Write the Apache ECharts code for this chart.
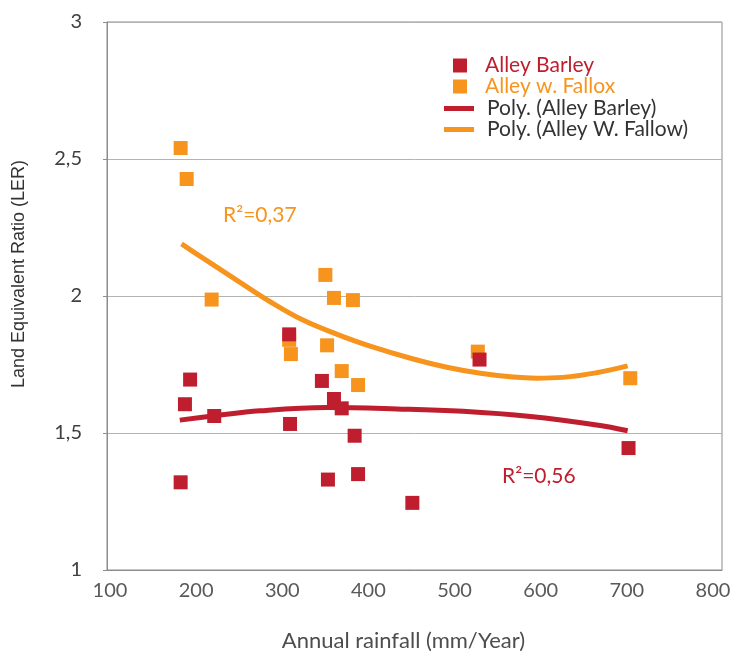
<!DOCTYPE html>
<html>
<head>
<meta charset="utf-8">
<script src="https://cdn.jsdelivr.net/npm/echarts@6/dist/echarts.min.js"></script>
<style>
  html, body { margin: 0; padding: 0; background: #fff; }
  #chart { width: 733px; height: 651px; }
</style>
</head>
<body>
<div id="chart"></div>
<script>
// Annual rainfall (mm/year) vs Land Equivalent Ratio for two alley-cropping systems
const barleyRain = [182, 187, 193, 221, 308, 309, 346, 353, 360, 369, 384, 388, 451, 529, 702];
const barleyLER  = [1.32, 1.605, 1.695, 1.562, 1.86, 1.533, 1.69, 1.33, 1.624, 1.59, 1.49, 1.35, 1.245, 1.768, 1.445];

const fallowRain = [182, 189, 218, 350, 360, 382, 308, 310, 352, 369, 388, 527, 704];
const fallowLER  = [2.54, 2.427, 1.987, 2.077, 1.993, 1.985, 1.84, 1.788, 1.82, 1.726, 1.675, 1.797, 1.7];

// Polynomial trend lines (points along each fitted curve)
const barleyTrendX = [181, 220, 274, 352, 433, 510, 588, 665, 701];
const barleyTrendY = [1.547, 1.562, 1.581, 1.593, 1.588, 1.579, 1.560, 1.529, 1.508];
const fallowTrendX = [183, 208, 247, 286, 324, 363, 402, 452, 491, 530, 568, 595, 626, 665, 701];
const fallowTrendY = [2.190, 2.138, 2.058, 1.979, 1.912, 1.861, 1.817, 1.770, 1.740, 1.718, 1.704, 1.700, 1.703, 1.720, 1.745];

const xTicks = [100, 200, 300, 400, 500, 600, 700, 800];
const r2Barley = 'R²=0,56';
const r2Fallow = 'R²=0,37';

const RED = '#be1e2d';
const ORANGE = '#f7941d';
const FONT = 'Lato';

const zip = (xs, ys) => xs.map((x, i) => [x, ys[i]]);

const chart = echarts.init(document.getElementById('chart'), null, { renderer: 'canvas' });

chart.setOption({
  animation: false,
  textStyle: { fontFamily: FONT },
  grid: {
    left: 107, right: 11, top: 22, bottom: 81,
    outerBoundsMode: 'none',
    containLabel: false,
    show: true, borderColor: '#8c8c8c', borderWidth: 1
  },
  xAxis: {
    type: 'value',
    min: 96.5, max: 810.5,
    name: 'Annual rainfall (mm/Year)',
    nameLocation: 'middle',
    nameGap: 60,
    nameTextStyle: { fontFamily: FONT, fontSize: 22, color: '#4d4d4d', padding: [0, 22, 0, 0] },
    axisLine: { show: true, lineStyle: { color: '#8c8c8c' } },
    axisTick: { show: false },
    splitLine: { show: false },
    axisLabel: {
      customValues: xTicks,
      margin: 11,
      fontFamily: FONT, fontSize: 20, color: '#595959'
    }
  },
  yAxis: {
    type: 'value',
    min: 1, max: 3, interval: 0.5,
    name: 'Land Equivalent Ratio (LER)',
    nameLocation: 'middle',
    nameGap: 79,
    nameTextStyle: { fontFamily: 'Liberation Sans', fontSize: 18, color: '#333333', padding: [0, 0, 0, 44] },
    axisLine: { show: true, lineStyle: { color: '#8c8c8c' } },
    axisTick: { show: true, length: 4, lineStyle: { color: '#8c8c8c' } },
    splitLine: { show: true, lineStyle: { color: '#b3b3b3', width: 1 } },
    axisLabel: {
      margin: 25,
      fontFamily: FONT, fontSize: 20, color: '#404040',
      formatter: v => String(v).replace('.', ',')
    }
  },
  legend: [
    {
      orient: 'vertical',
      left: 453, top: 55,
      padding: 0,
      itemWidth: 14, itemHeight: 14, itemGap: 0,
      selectedMode: false,
      textStyle: { fontFamily: FONT, fontSize: 21, padding: [0, 0, 0, 13] },
      data: [
        { name: 'Alley Barley', icon: 'rect', textStyle: { color: RED } },
        { name: 'Alley w. Fallox', icon: 'rect', textStyle: { color: ORANGE } }
      ]
    },
    {
      orient: 'vertical',
      left: 444, top: 98,
      padding: 0,
      itemWidth: 30, itemHeight: 5, itemGap: 0,
      selectedMode: false,
      textStyle: { fontFamily: FONT, fontSize: 21, color: '#333333', padding: [0, 0, 0, 8] },
      data: [
        { name: 'Poly. (Alley Barley)', icon: 'path://M0,0H30V5H0Z' },
        { name: 'Poly. (Alley W. Fallow)', icon: 'path://M0,0H30V5H0Z' }
      ]
    }
  ],
  graphic: [
    {
      type: 'text', left: 223, top: 205,
      style: { text: r2Fallow, fill: ORANGE, font: '21px Lato' }
    },
    {
      type: 'text', left: 502, top: 466,
      style: { text: r2Barley, fill: RED, font: '21px Lato' }
    }
  ],
  series: [
    {
      name: 'Poly. (Alley W. Fallow)',
      type: 'line',
      data: zip(fallowTrendX, fallowTrendY),
      smooth: 0.4,
      showSymbol: false,
      color: ORANGE,
      lineStyle: { color: ORANGE, width: 5 },
      itemStyle: { color: ORANGE },
      z: 1
    },
    {
      name: 'Poly. (Alley Barley)',
      type: 'line',
      data: zip(barleyTrendX, barleyTrendY),
      smooth: 0.4,
      showSymbol: false,
      color: RED,
      lineStyle: { color: RED, width: 5 },
      itemStyle: { color: RED },
      z: 1
    },
    {
      name: 'Alley w. Fallox',
      type: 'scatter',
      symbol: 'rect',
      symbolSize: 14,
      data: zip(fallowRain, fallowLER),
      itemStyle: { color: ORANGE, opacity: 1 },
      z: 2
    },
    {
      name: 'Alley Barley',
      type: 'scatter',
      symbol: 'rect',
      symbolSize: 14,
      data: zip(barleyRain, barleyLER),
      itemStyle: { color: RED, opacity: 1 },
      z: 3
    }
  ]
});
</script>
</body>
</html>
